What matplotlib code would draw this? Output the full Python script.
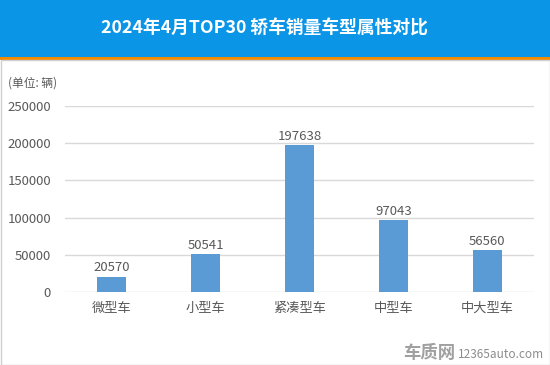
import matplotlib

matplotlib.use('Agg')
import matplotlib.pyplot as plt
from matplotlib.patches import Rectangle

plt.rcParams['font.family'] = ['Noto Sans CJK SC', 'DejaVu Sans']

# Data
categories = ['微型车', '小型车', '紧凑型车', '中型车', '中大型车']
sales = [20570, 50541, 197638, 97043, 56560]
yticks = [0, 50000, 100000, 150000, 200000, 250000]

TEXT = '#595959'
BAR = '#5B9BD5'

fig = plt.figure(figsize=(5.5, 3.65), dpi=100)

# header band + orange rule
fig.patches.append(Rectangle((0, 1 - 57 / 365), 1, 57 / 365, transform=fig.transFigure,
                             facecolor='#0A95E6', edgecolor='none', zorder=0))
fig.patches.append(Rectangle((0, 1 - 60 / 365), 1, 3 / 365, transform=fig.transFigure,
                             facecolor='#F28A00', edgecolor='none', zorder=0))
# thin grey frame around the white area
fig.patches.append(Rectangle((0.5 / 550, 0.5 / 365), 1 - 1 / 550, 1 - 60 / 365, transform=fig.transFigure,
                             facecolor='none', edgecolor='#D0D0D0', linewidth=1, zorder=0))

fig.text(0.48, 1 - 29 / 365, '2024年4月TOP30 轿车销量车型属性对比', color='white',
         fontsize=12.8, fontweight='bold', ha='center', va='center')
fig.text(8 / 550, 1 - 83 / 365, '(单位: 辆)', color=TEXT, fontsize=8.5, ha='left', va='center')

ax = fig.add_axes([65 / 550, 1 - 292 / 365, 469 / 550, 186 / 365])
x = range(len(categories))
ax.bar(x, sales, width=0.31, color=BAR, zorder=2)
for xi, v in zip(x, sales):
    ax.text(xi, v + 3000, str(v), ha='center', va='bottom', color=TEXT, fontsize=9.5)

ax.set_ylim(0, 250000)
ax.set_xlim(-0.5, len(categories) - 0.5)
ax.set_yticks(yticks)
ax.set_yticklabels([str(t) for t in yticks])
ax.set_xticks(list(x))
ax.set_xticklabels(categories)
ax.tick_params(axis='both', length=0, colors=TEXT, labelsize=9.5)
ax.tick_params(axis='y', pad=10)
ax.tick_params(axis='x', pad=7)
ax.grid(axis='y', color='#D9D9D9', linewidth=1, zorder=0)
for s in ax.spines.values():
    s.set_visible(False)

# watermark
fig.text(455 / 550, 1 - 353 / 365, '车质网', color='#A0A0A0', fontsize=12.5, fontweight='bold',
         ha='right', va='center')
fig.text(458 / 550, 1 - 355 / 365, '12365auto.com', color='#8C8C8C', fontsize=8.5,
         ha='left', va='center')

fig.savefig('out.png', dpi=100)
